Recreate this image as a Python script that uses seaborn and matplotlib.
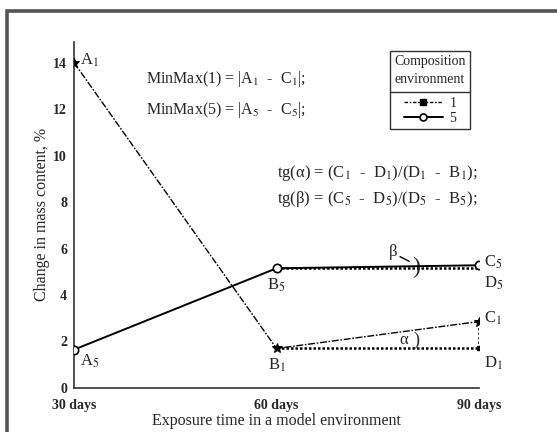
import matplotlib
matplotlib.use("Agg")
import matplotlib.pyplot as plt
import seaborn as sns
import pandas as pd
from matplotlib.patches import Rectangle
from matplotlib.lines import Line2D

# ---- data ----
days = ["30 days", "60 days", "90 days"]
x_pos = [0, 1, 2]
series_1 = [14.0, 1.7, 2.86]
series_5 = [1.65, 5.15, 5.28]
y_ticks = [0, 2, 4, 6, 8, 10, 12, 14]
legend_labels = ["1", "5"]

sns.set_style("white")
plt.rcParams["font.family"] = ["Liberation Serif", "DejaVu Serif"]
plt.rcParams["mathtext.fontset"] = "stix"

fig = plt.figure(figsize=(5.57, 4.32), dpi=100)
ax = fig.add_axes([0.1329, 0.1019, 0.7271, 0.8016])

df1 = pd.DataFrame({"x": x_pos, "y": series_1})
df5 = pd.DataFrame({"x": x_pos, "y": series_5})

# helper dotted lines (projections)
dot = (0, (1, 0.8))
ax.plot([x_pos[1], x_pos[2]], [series_1[1], series_1[1]], ls=dot, color="black", lw=1.8, zorder=2)
ax.plot([x_pos[2], x_pos[2]], [series_1[1], series_1[2]], ls=dot, color="black", lw=1.8, zorder=2)
ax.plot([x_pos[2]], [series_1[1]], marker="s", ms=2.5, color="black", zorder=3)
ax.plot([x_pos[1], x_pos[2]], [series_5[1], series_5[1]], ls=dot, color="black", lw=1.8, zorder=2)

sns.lineplot(data=df1, x="x", y="y", ax=ax, color="black", lw=1.0,
             linestyle=(0, (5, 1.2, 1.2, 1.2)), marker="*", markersize=7,
             markerfacecolor="black", markeredgecolor="black", label=legend_labels[0], zorder=4)
sns.lineplot(data=df5, x="x", y="y", ax=ax, color="black", lw=1.4,
             marker="o", markersize=6, markerfacecolor="white",
             markeredgecolor="black", markeredgewidth=1.2, label=legend_labels[1], zorder=4)

ax.set_xlim(0, 2)
ax.set_ylim(0, 14.9)
ax.set_xticks(x_pos)
ax.set_xticklabels(days)
ax.set_yticks(y_ticks)
for s in ["top", "right"]:
    ax.spines[s].set_visible(False)
for s in ["left", "bottom"]:
    ax.spines[s].set_color("#333333")
    ax.spines[s].set_linewidth(1.2)
ax.tick_params(axis="y", direction="out", length=4, width=1, labelsize=10, pad=1, color="#333333")
ax.tick_params(axis="x", direction="inout", length=6, width=1, labelsize=10, pad=5, color="#333333")
for lab in ax.get_xticklabels() + ax.get_yticklabels():
    lab.set_fontweight("bold")
ax.set_xlabel("Exposure time in a model environment", fontsize=11.5, labelpad=1)
ax.set_ylabel("Change in mass content, %", fontsize=11.5, labelpad=2)

fs = 12
# point labels
ax.text(0.03, 14.1, r"A$_1$", fontsize=fs, ha="left", va="center")
ax.text(0.03, 1.15, r"A$_5$", fontsize=fs, ha="left", va="center")
ax.text(1.0, 4.43, r"B$_5$", fontsize=fs, ha="center", va="center")
ax.text(1.0, 0.99, r"B$_1$", fontsize=fs, ha="center", va="center")
ax.text(2.025, 5.4, r"C$_5$", fontsize=fs, ha="left", va="center")
ax.text(2.025, 4.5, r"D$_5$", fontsize=fs, ha="left", va="center")
ax.text(2.025, 3.0, r"C$_1$", fontsize=fs, ha="left", va="center")
ax.text(2.025, 1.05, r"D$_1$", fontsize=fs, ha="left", va="center")

# formulas
fm = 11.5
ax.text(0.355, 13.3, r"MinMax(1) = |A$_1$  -  C$_1$|;", fontsize=fm, ha="left", va="center")
ax.text(0.355, 11.94, r"MinMax(5) = |A$_5$  -  C$_5$|;", fontsize=fm, ha="left", va="center")
ax.text(1.0, 9.24, r"tg(α) = (C$_1$  -  D$_1$)/(D$_1$  -  B$_1$);", fontsize=fs, ha="left", va="center")
ax.text(1.0, 8.12, r"tg(β) = (C$_5$  -  D$_5$)/(D$_5$  -  B$_5$);", fontsize=fs, ha="left", va="center")

# angle marks
ax.text(1.63, 2.06, "α", fontsize=fs, ha="center", va="center")
ax.text(1.69, 2.06, ")", fontsize=13, ha="center", va="center")
ax.text(1.575, 5.85, "β", fontsize=fs, ha="center", va="center")
ax.plot([1.61, 1.655], [5.65, 5.45], color="black", lw=1)
ax.text(1.69, 5.18, ")", fontsize=17, ha="center", va="center")

# legend
handles = [Line2D([], [], color="black", lw=1.0, linestyle=(0, (2.5, 1.2, 1.2, 1.2)),
                  marker="s", ms=4),
           Line2D([], [], color="black", lw=1.4, marker="o", ms=5,
                  markerfacecolor="white", markeredgewidth=1.2)]
leg = ax.legend(handles, legend_labels, title="Composition\nenvironment",
                loc="upper right", bbox_to_anchor=(0.978, 0.973), borderaxespad=0,
                fontsize=10, title_fontsize=10, frameon=True, fancybox=False,
                edgecolor="#333333", handlelength=2.8, handletextpad=0.5,
                borderpad=0.3, labelspacing=0.1)
leg.get_title().set_linespacing(1.5)
leg._legend_box.sep = 8
leg.get_frame().set_linewidth(1.0)
leg.get_frame().set_alpha(1)
fig.canvas.draw()
inv = ax.transAxes.inverted()
bb = leg.get_window_extent().transformed(inv)
tb = leg.get_title().get_window_extent().transformed(inv)
t0 = leg.get_texts()[0].get_window_extent().transformed(inv)
ysep = (tb.y0 + t0.y1) / 2
ax.plot([bb.x0, bb.x1], [ysep, ysep], color="#333333", lw=1.0, transform=ax.transAxes, clip_on=False, zorder=10)

# outer frame
fig.patches.append(Rectangle((0.0125, -0.2), 1.2, 1.1745, transform=fig.transFigure,
                             fill=False, edgecolor="#555555", lw=2.6))

fig.savefig("out.png", dpi=100)
